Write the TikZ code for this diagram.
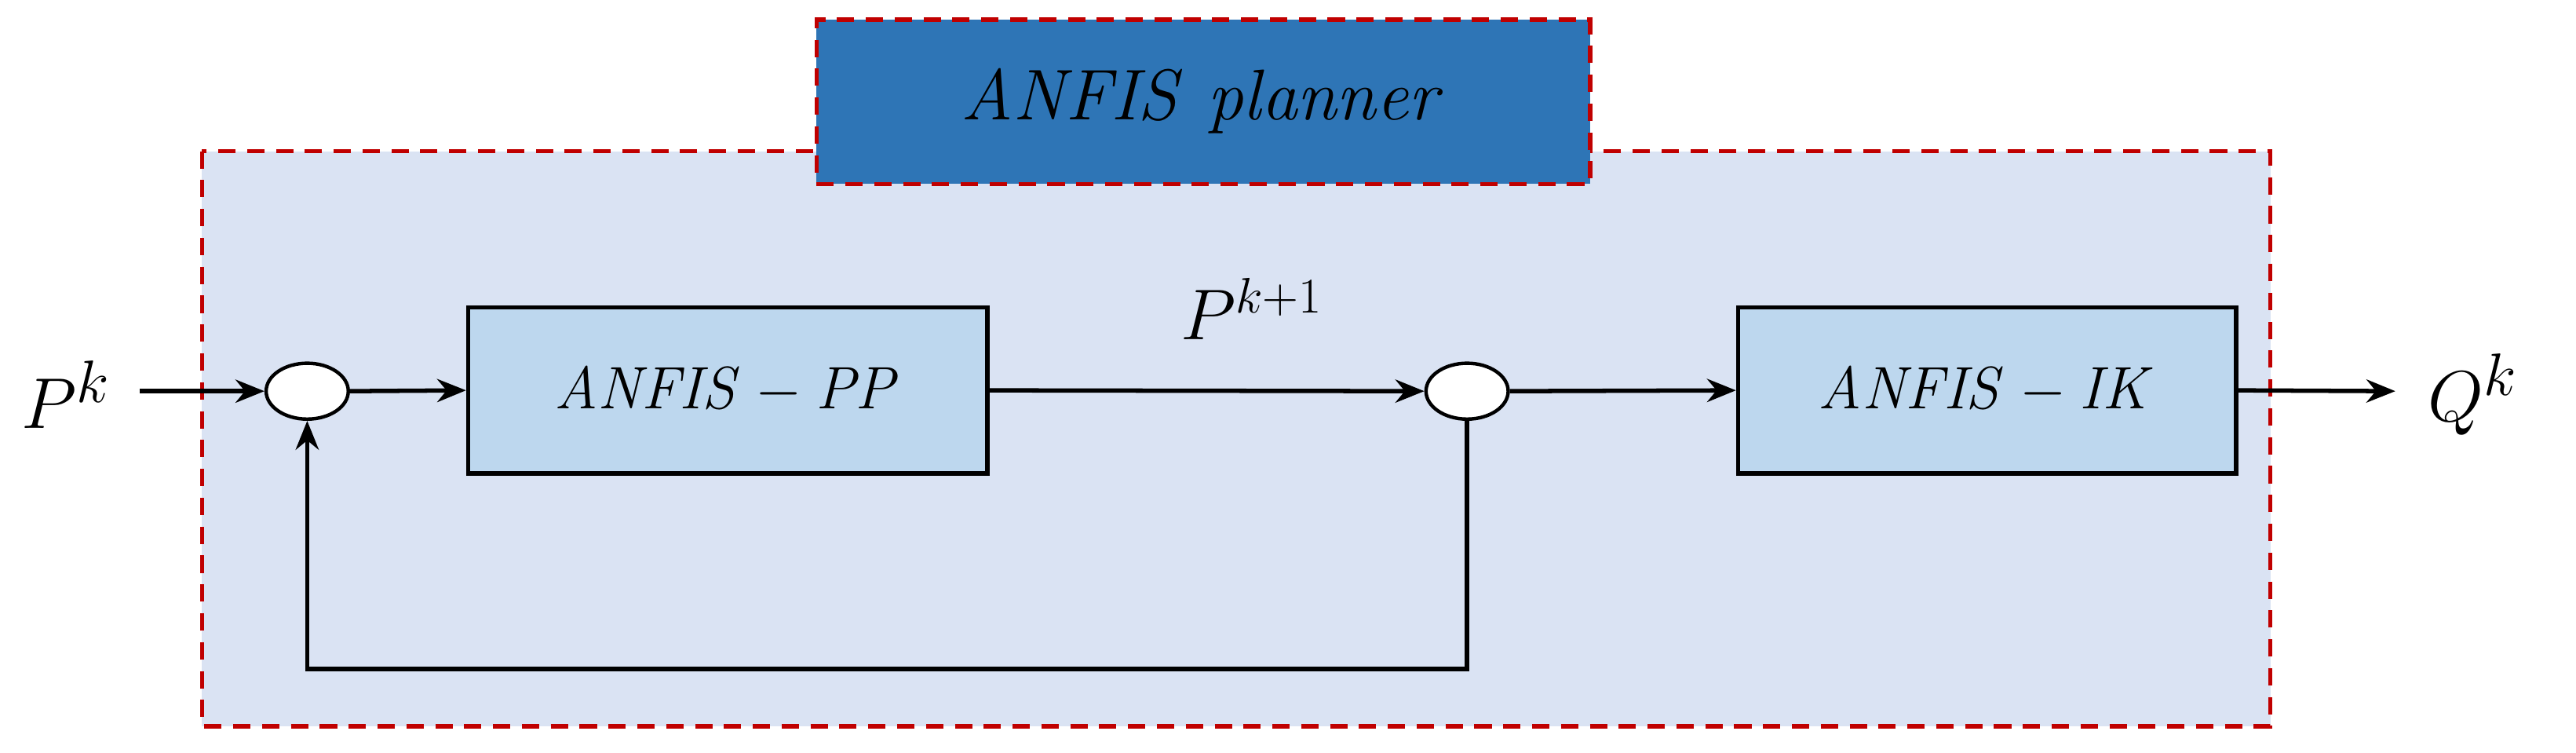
\documentclass[tikz,border=0pt]{standalone}
\usetikzlibrary{arrows.meta,shapes.geometric}
\begin{document}
\begin{tikzpicture}[x=0.02cm,y=-0.02cm,
  blk/.style={draw=black,line width=1.5pt,fill=blockfill,inner sep=0pt},
  sum/.style={draw=black,line width=1.2pt,fill=white,ellipse,minimum width=50*0.02cm,minimum height=34*0.02cm,inner sep=0pt},
  arr/.style={line width=1.5pt,-{Stealth[length=10pt,width=8pt]}},
  lbl/.style={font=\fontsize{20}{24}\selectfont}]
\definecolor{outerfill}{HTML}{DAE3F3}
\definecolor{blockfill}{HTML}{BDD7EE}
\definecolor{planfill}{HTML}{2E75B6}
\definecolor{dred}{HTML}{C00000}
\useasboundingbox (0,0) rectangle (1568,458);
\fill[outerfill] (123,92) rectangle (1382,442);
\draw[dred,line width=1.5pt,dash pattern=on 6pt off 4pt] (123,92) rectangle (1382,442);
\node[fill=planfill,draw=dred,line width=1.5pt,dash pattern=on 6pt off 4pt,minimum width=471*0.02cm,minimum height=100*0.02cm,font=\fontsize{24}{28}\selectfont] (plan) at (732.5,62) {$\mathit{ANFIS\ planner}$};
\node[blk,minimum width=316*0.02cm,minimum height=101*0.02cm,lbl] (pp) at (443,237.5) {$\mathit{ANFIS}-\mathit{PP}$};
\node[blk,minimum width=303*0.02cm,minimum height=101*0.02cm,lbl] (ik) at (1209.5,237.5) {$\mathit{ANFIS}-\mathit{IK}$};
\node[sum] (s1) at (187,238) {};
\node[sum] (s2) at (893,238) {};
\node[font=\fontsize{28}{32}\selectfont] (pk) at (40,240) {$P^k$};
\node[font=\fontsize{28}{32}\selectfont] (qk) at (1505,240) {$Q^k$};
\node[font=\fontsize{24}{28}\selectfont] (pk1) at (762,188) {$P^{k+1}$};
\coordinate (in) at (85,238);
\coordinate (out) at (1458,238);
\coordinate (fb1) at (893,407);
\coordinate (fb2) at (187,407);
\draw[arr] (in) -- (s1.west);
\draw[arr] (s1.east) -- (pp.west);
\draw[arr] (pp.east) -- (s2.west);
\draw[arr] (s2.east) -- (ik.west);
\draw[arr] (ik.east) -- (out);
\draw[arr] (s2.south) -- (fb1) -- (fb2) -- (s1.south);
\end{tikzpicture}
\end{document}
